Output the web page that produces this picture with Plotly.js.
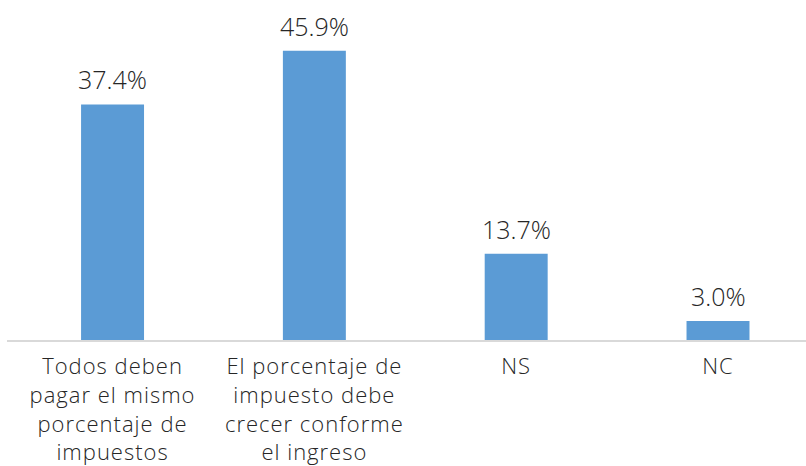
<!DOCTYPE html>
<html>
<head>
<meta charset="utf-8">
<script src="https://cdn.plot.ly/plotly-3.0.1.min.js"></script>
<style>
html,body{margin:0;padding:0;background:#fff;}
#chart{width:806px;height:466px;}
#chart .xtick text{letter-spacing:1px;}
</style>
</head>
<body>
<div id="chart"></div>
<script>
const categories = [
  "Todos deben<br>pagar el mismo<br>porcentaje de<br>impuestos",
  "El porcentaje de<br>impuesto debe<br>crecer conforme<br>el ingreso",
  "NS",
  "NC"
];
const values = [37.4, 45.9, 13.7, 3.0];
const valueLabels = ["37.4%", "45.9%", "13.7%", "3.0%"];
const xpos = [0, 1, 2, 3];

const FONT = "'Open Sans', sans-serif";

Plotly.newPlot("chart", [{
  type: "bar",
  x: xpos,
  y: values,
  width: 0.312,
  marker: {color: "#5B9BD5"},
  hoverinfo: "none"
}], {
  width: 806, height: 466,
  margin: {l: 7, r: 0, t: 25, b: 126},
  paper_bgcolor: "#fff", plot_bgcolor: "#fff",
  showlegend: false,
  xaxis: {
    range: [-0.523, 3.436],
    tickmode: "array", tickvals: xpos, ticktext: categories,
    tickfont: {family: FONT, size: 22, color: "#262626", weight: 300},
    showline: true, linecolor: "#d9d9d9", linewidth: 2,
    showgrid: false, zeroline: false, ticks: "", ticklabelstandoff: 6
  },
  yaxis: {
    range: [0, 50], visible: false, showgrid: false, zeroline: false
  },
  annotations: values.map((v, i) => ({
    x: xpos[i], y: v, xref: "x", yref: "y",
    text: valueLabels[i], showarrow: false,
    yanchor: "bottom", yshift: 6,
    font: {family: FONT, size: 25, color: "#262626", weight: 300}
  })),
  font: {family: FONT}
}, {staticPlot: true});
</script>
</body>
</html>
